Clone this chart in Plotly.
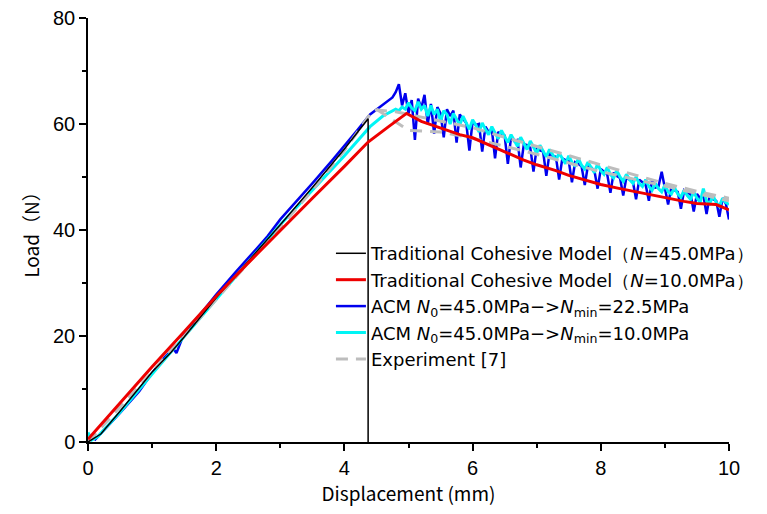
import numpy as np
import plotly.graph_objects as go

# ---- data ----
black_x = [0, 0.2, 0.5, 1.0, 1.3, 1.5, 2.0, 2.5, 3.0, 3.5, 4.0, 4.37, 4.37]
black_y = [0, 1.5, 5.8, 13.2, 17.0, 19.8, 27.2, 34.0, 41.0, 48.0, 55.3, 61.0, 0]

red_x = [0, 0.5, 1.0, 1.5, 2.0, 2.5, 3.0, 3.5, 4.0, 4.37, 4.7, 4.97, 5.2, 5.5, 5.8, 6.0, 6.3, 6.5,
         6.8, 7.0, 7.3, 7.5, 7.8, 8.0, 8.3, 8.5, 8.8, 9.0, 9.3, 9.5, 9.8, 10.0]
red_y = [0.5, 7.4, 14.2, 20.8, 27.5, 33.8, 40.0, 46.0, 52.0, 56.6, 59.6, 62.0, 60.5, 59.2, 58.0, 57.4,
         55.8, 54.8, 53.2, 52.3, 51.2, 50.3, 49.2, 48.6, 47.8, 47.3, 46.6, 46.1, 45.4, 45.0, 44.8, 43.8]

blue_pre_x = [0.1, 0.3, 0.5, 0.8, 1.0, 1.2, 1.33, 1.38, 1.5, 1.8, 2.0, 2.3, 2.5, 2.8, 3.0, 3.3, 3.5,
              3.8, 4.0, 4.2, 4.4, 4.6, 4.75, 4.8]
blue_pre_y = [0.3, 2.8, 5.5, 9.6, 13.0, 16.0, 17.6, 16.8, 20.5, 24.8, 27.8, 32.0, 34.8, 38.8, 42.0, 46.0,
              48.8, 53.0, 55.8, 58.8, 61.8, 63.6, 65.0, 66.0]
blue_post = [67.5, 63.5, 65.8, 62.0, 64.5, 57.0, 64.8, 63.0, 65.5, 60.0,
             63.8, 58.2, 63.2, 62.0, 57.5, 62.8, 61.5, 62.5, 56.5, 61.8,
             61.0, 60.2, 55.0, 60.5, 59.8, 60.0, 54.8, 59.5, 58.5, 59.0,
             53.5, 58.5, 58.0, 57.8, 52.5, 57.5, 56.8, 57.0, 51.8, 56.2,
             56.0, 55.5, 51.0, 55.5, 55.0, 54.8, 50.2, 54.5, 54.0, 53.8,
             49.5, 53.5, 53.2, 53.0, 49.0, 52.8, 52.5, 52.0, 48.5, 52.2,
             51.8, 51.2, 47.8, 51.5, 51.0, 50.5, 47.0, 50.8, 50.2, 49.8,
             46.5, 50.0, 49.5, 49.2, 45.8, 49.5, 49.0, 48.5, 45.5, 49.5,
             48.0, 48.2, 51.0, 47.5, 44.8, 48.0, 47.5, 47.2, 44.0, 47.5,
             47.0, 46.8, 43.5, 46.8, 46.0, 46.5, 43.0, 46.5, 45.8, 45.5,
             42.5, 46.0, 45.0, 42.0]

cyan_pre_x = [0.0, 0.06, 0.15, 0.5, 1.0, 1.5, 2.0, 2.5, 3.0, 3.5, 4.0, 4.4, 4.6, 4.8]
cyan_pre_y = [1.8, 0.4, 1.0, 5.6, 12.8, 19.8, 27.0, 34.0, 41.0, 47.5, 54.0, 59.5, 61.5, 62.8]
cyan_post = [62.5, 63.2, 62.8, 64.0, 63.0, 62.5, 64.2, 62.8, 63.5, 61.5,
             63.5, 61.8, 62.8, 60.5, 62.5, 61.8, 60.0, 62.0, 60.8, 59.8,
             61.5, 60.2, 59.0, 60.8, 59.8, 58.5, 60.2, 59.0, 58.0, 59.5,
             58.2, 57.2, 58.8, 57.5, 56.5, 58.0, 56.8, 55.8, 57.5, 56.2,
             55.2, 56.8, 55.5, 54.5, 56.0, 54.8, 53.8, 55.2, 54.2, 53.2,
             54.5, 53.5, 52.5, 54.0, 52.8, 52.0, 53.5, 52.2, 51.5, 52.8,
             51.8, 50.8, 52.5, 51.2, 50.5, 51.8, 50.5, 49.8, 51.2, 50.0,
             49.2, 50.5, 49.5, 48.8, 50.0, 48.8, 48.2, 49.5, 48.2, 47.5,
             48.8, 47.8, 47.2, 48.5, 47.2, 46.8, 48.0, 46.8, 46.2, 47.5,
             46.5, 45.8, 47.2, 46.0, 45.2, 47.8, 45.5, 45.0, 46.5, 45.2,
             44.5, 46.0, 45.2, 44.8]
post_x = list(np.round(np.arange(4.85, 10.0001, 0.05), 2))

exp_x = [0, 0.5, 1, 1.5, 2, 2.5, 3, 3.5, 4, 4.45, 4.8, 5.2, 5.6, 6, 6.5, 7, 7.5, 8, 8.5, 9, 9.5, 10,
         None, 4.5, 5.0, 5.5, 6.0, 7.0, 8.0, 9.0, 10.0]
exp_y = [0, 6.5, 13.2, 20, 27, 33.8, 40.5, 47.5, 55, 62.7, 62.3, 61.3, 60.3, 59.3, 57.5, 55.8, 54, 52.3,
         50.5, 48.8, 47.3, 46, None, 62.8, 58.8, 58.5, 57.3, 54.3, 51.0, 48.3, 45.5]

names = ["Traditional Cohesive Model（<i>N</i>=45.0MPa）",
         "Traditional Cohesive Model（<i>N</i>=10.0MPa）",
         "ACM <i>N</i><sub>0</sub>=45.0MPa−><i>N</i><sub>min</sub>=22.5MPa",
         "ACM <i>N</i><sub>0</sub>=45.0MPa−><i>N</i><sub>min</sub>=10.0MPa",
         "Experiment [7]"]

fig = go.Figure()
fig.add_trace(go.Scatter(x=blue_pre_x + post_x, y=blue_pre_y + blue_post, mode="lines",
                         line=dict(color="#0000ee", width=2.5), name=names[2], legendrank=3))
fig.add_trace(go.Scatter(x=cyan_pre_x + post_x, y=cyan_pre_y + cyan_post, mode="lines",
                         line=dict(color="#00f5f5", width=3), name=names[3], legendrank=4))
fig.add_trace(go.Scatter(x=exp_x, y=exp_y, mode="lines", connectgaps=False,
                         line=dict(color="#bdbdbd", width=3, dash="12px,8px"), name=names[4], legendrank=5))
fig.add_trace(go.Scatter(x=black_x, y=black_y, mode="lines",
                         line=dict(color="black", width=1.5), name=names[0], legendrank=1))
fig.add_trace(go.Scatter(x=red_x, y=red_y, mode="lines",
                         line=dict(color="#ee0000", width=3), name=names[1], legendrank=2))

axis_font = dict(family="Liberation Sans, Arial", size=20, color="black")
fig.update_layout(
    width=767, height=514,
    margin=dict(l=88, r=38, t=18, b=72, autoexpand=False),
    plot_bgcolor="white", paper_bgcolor="white",
    font=dict(family="Noto Sans CJK JP", color="black"),
    legend=dict(x=0.379, y=0.488, xanchor="left", yanchor="top", bgcolor="rgba(0,0,0,0)",
                font=dict(family="DejaVu Sans", size=18, color="black"),
                tracegroupgap=0, itemwidth=30),
    showlegend=True,
)
fig.update_xaxes(range=[0, 10], tickvals=[0, 2, 4, 6, 8, 10], showline=True, linecolor="black",
                 linewidth=1.5, ticks="outside", ticklen=7, tickwidth=1.5, tickcolor="black",
                 showgrid=False, zeroline=False, tickfont=axis_font,
                 minor=dict(tickvals=[1, 3, 5, 7, 9], ticks="outside", ticklen=4, tickwidth=1.5,
                            tickcolor="black"),
                 title=dict(text="Displacement (mm)", font=dict(family="Noto Sans CJK JP", size=19),
                            standoff=2))
fig.update_yaxes(range=[0, 80], tickvals=[0, 20, 40, 60, 80], showline=True, linecolor="black",
                 linewidth=1.5, ticks="outside", ticklen=7, tickwidth=1.5, tickcolor="black",
                 showgrid=False, zeroline=False, tickfont=axis_font,
                 minor=dict(tickvals=[10, 30, 50, 70], ticks="outside", ticklen=4, tickwidth=1.5,
                            tickcolor="black"),
                 title=dict(text="Load（N）", font=dict(family="Noto Sans CJK JP", size=19),
                            standoff=8))

fig.write_html("out.html")
